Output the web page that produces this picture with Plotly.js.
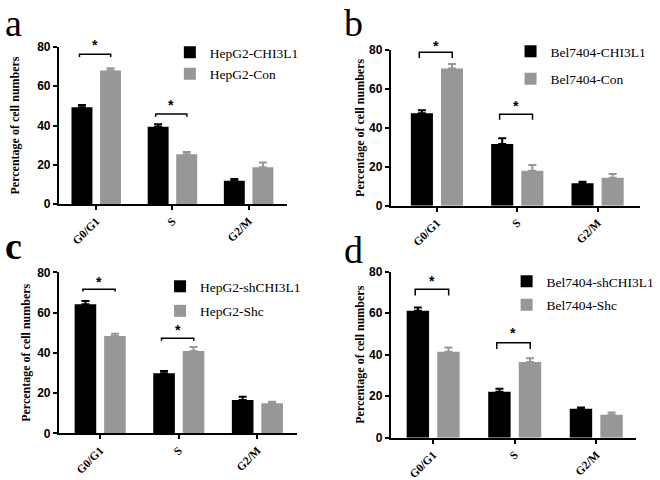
<!DOCTYPE html>
<html>
<head>
<meta charset="utf-8">
<script src="https://cdn.plot.ly/plotly-3.0.1.min.js"></script>
<style>html,body{margin:0;padding:0;background:#fff;}#chart{width:660px;height:480px;}</style>
</head>
<body>
<div id="chart"></div>
<script>
// ---------- data ----------
const categories = ['G0/G1', 'S', 'G2/M'];

const namesA = ['HepG2-CHI3L1', 'HepG2-Con'];
const a1 = [49.3, 39.4, 11.9];
const a1Err = [1.2, 1.2, 0.9];
const a2 = [68.0, 25.3, 18.7];
const a2Err = [1.2, 1.2, 2.4];

const namesB = ['Bel7404-CHI3L1', 'Bel7404-Con'];
const b1 = [47.5, 31.7, 11.5];
const b1Err = [1.5, 2.9, 0.8];
const b2 = [70.5, 18.0, 14.4];
const b2Err = [2.3, 2.9, 1.9];

const namesC = ['HepG2-shCHI3L1', 'HepG2-Shc'];
const c1 = [64.1, 29.8, 16.6];
const c1Err = [1.6, 1.2, 1.6];
const c2 = [48.3, 40.9, 14.9];
const c2Err = [1.2, 2.0, 0.8];

const namesD = ['Bel7404-shCHI3L1', 'Bel7404-Shc'];
const d1 = [61.2, 22.2, 14.0];
const d1Err = [1.5, 1.4, 0.5];
const d2 = [41.4, 36.5, 11.1];
const d2Err = [2.1, 1.8, 1.0];

// significance brackets: [category index, bracket height, star height]
const sigA = [[0, 76.3, 81.0], [1, 45.9, 50.5]];
const sigB = [[0, 78.8, 82.0], [1, 47.0, 51.3]];
const sigC = [[0, 71.6, 75.0], [1, 47.2, 51.3]];
const sigD = [[0, 71.5, 75.5], [1, 45.8, 50.6]];

const panelLetters = ['a', 'b', 'c', 'd'];
const yTicks = [0, 20, 40, 60, 80];
const yMax = 80;

// ---------- styling ----------
const BLACK = '#000000';
const GRAY = '#979797';
const serif = 'Liberation Serif, Times New Roman, serif';
const sans = 'Liberation Sans, Arial, sans-serif';

const panels = [
  {names: namesA, s1: a1, e1: a1Err, s2: a2, e2: a2Err, sig: sigA,
   xd: [60, 292], yd: [47, 204], xr: [-0.49, 2.5], legend: [173, 37], gap: 1, drop: 1.4, standoff: 15},
  {names: namesB, s1: b1, e1: b1Err, s2: b2, e2: b2Err, sig: sigB,
   xd: [398, 652], yd: [50, 205.7], xr: [-0.575, 2.53], legend: [520, 36], gap: 7, drop: 2.9, standoff: 2},
  {names: namesC, s1: c1, e1: c1Err, s2: c2, e2: c2Err, sig: sigC,
   xd: [60, 303], yd: [272.3, 433.3], xr: [-0.525, 2.51], legend: [163, 271], gap: 4, drop: 1.2, standoff: 4},
  {names: namesD, s1: d1, e1: d1Err, s2: d2, e2: d2Err, sig: sigD,
   xd: [398, 648], yd: [271.7, 437.7], xr: [-0.52, 2.49], legend: [516, 266], gap: 3, drop: 3.0, standoff: 2}
];
const letterPos = [[3, 0], [348, 0], [3, 223], [348, 227]];

const W = 660, H = 480;
const xIdx = categories.map((c, i) => i);

const traces = [];
const layout = {
  width: W, height: H,
  margin: {l: 0, r: 0, t: 0, b: 0},
  paper_bgcolor: '#fff', plot_bgcolor: '#fff',
  barmode: 'group', bargap: 0.25, bargroupgap: 0.267,
  shapes: [], annotations: [],
  font: {family: serif, color: '#000'}
};

panels.forEach((p, k) => {
  const n = k + 1;
  const xa = n === 1 ? 'x' : 'x' + n;
  const ya = n === 1 ? 'y' : 'y' + n;
  const lg = n === 1 ? 'legend' : 'legend' + n;
  const zeros = xIdx.map(() => 0);
  [[p.s1, p.e1, BLACK, p.names[0]], [p.s2, p.e2, GRAY, p.names[1]]].forEach(([vals, errs, col, name], j) => {
    traces.push({
      type: 'bar', x: xIdx, y: vals, name: name,
      xaxis: xa, yaxis: ya, legend: lg, legendgroup: lg + '_' + j,
      marker: {color: col, line: {width: 0}},
      error_y: {type: 'data', symmetric: false, array: errs, arrayminus: zeros,
                color: col, thickness: 2, width: 4},
      hoverinfo: 'skip'
    });
  });
  const axKey = n === 1 ? 'xaxis' : 'xaxis' + n;
  const ayKey = n === 1 ? 'yaxis' : 'yaxis' + n;
  layout[axKey] = {
    domain: [p.xd[0] / W, p.xd[1] / W], range: p.xr, anchor: ya,
    tickmode: 'array', tickvals: xIdx, ticktext: categories, tickangle: -45,
    showline: true, linecolor: '#000', linewidth: 2, mirror: false,
    ticks: 'outside', ticklen: 4, tickwidth: 2, tickcolor: '#000',
    showgrid: false, zeroline: false, fixedrange: true,
    tickfont: {family: serif, size: 11.5, color: '#000', weight: 'bold'}
  };
  layout[ayKey] = {
    domain: [1 - p.yd[1] / H, 1 - p.yd[0] / H], range: [0, yMax], anchor: xa,
    tickmode: 'array', tickvals: yTicks,
    showline: true, linecolor: '#000', linewidth: 2,
    ticks: 'outside', ticklen: 4, tickwidth: 2, tickcolor: '#000',
    showgrid: false, zeroline: false, fixedrange: true,
    tickfont: {family: sans, size: 12, color: '#000', weight: 'bold'},
    title: {text: 'Percentage of cell numbers', standoff: p.standoff,
            font: {family: serif, size: 12, color: '#000', weight: 'bold'}}
  };
  layout[lg] = {
    x: p.legend[0] / W, y: 1 - p.legend[1] / H, xanchor: 'left', yanchor: 'top',
    bgcolor: 'rgba(0,0,0,0)', borderwidth: 0,
    font: {family: serif, size: 13.5, color: '#000'},
    tracegroupgap: p.gap, traceorder: 'grouped'
  };
  p.sig.forEach(([ci, yb, ys]) => {
    const x0 = ci - 0.22, x1 = ci + 0.19;
    layout.shapes.push({
      type: 'path', xref: xa, yref: ya,
      path: `M${x0},${yb - p.drop} L${x0},${yb} L${x1},${yb} L${x1},${yb - p.drop}`,
      line: {color: '#000', width: 1.5}
    });
    layout.annotations.push({
      xref: xa, yref: ya + ' domain', x: (x0 + x1) / 2, y: ys / yMax, text: '*', showarrow: false,
      xanchor: 'center', yanchor: 'middle',
      font: {family: sans, size: 14, color: '#000', weight: 'bold'}
    });
  });
  layout.annotations.push({
    xref: 'paper', yref: 'paper', x: letterPos[k][0] / W, y: 1 - letterPos[k][1] / H,
    xanchor: 'left', yanchor: 'top', text: panelLetters[k], showarrow: false,
    font: {family: serif, size: 38, color: '#000', weight: k === 2 ? 'bold' : 'normal'}
  });
});

Plotly.newPlot('chart', traces, layout, {staticPlot: true, displayModeBar: false});
</script>
</body>
</html>
